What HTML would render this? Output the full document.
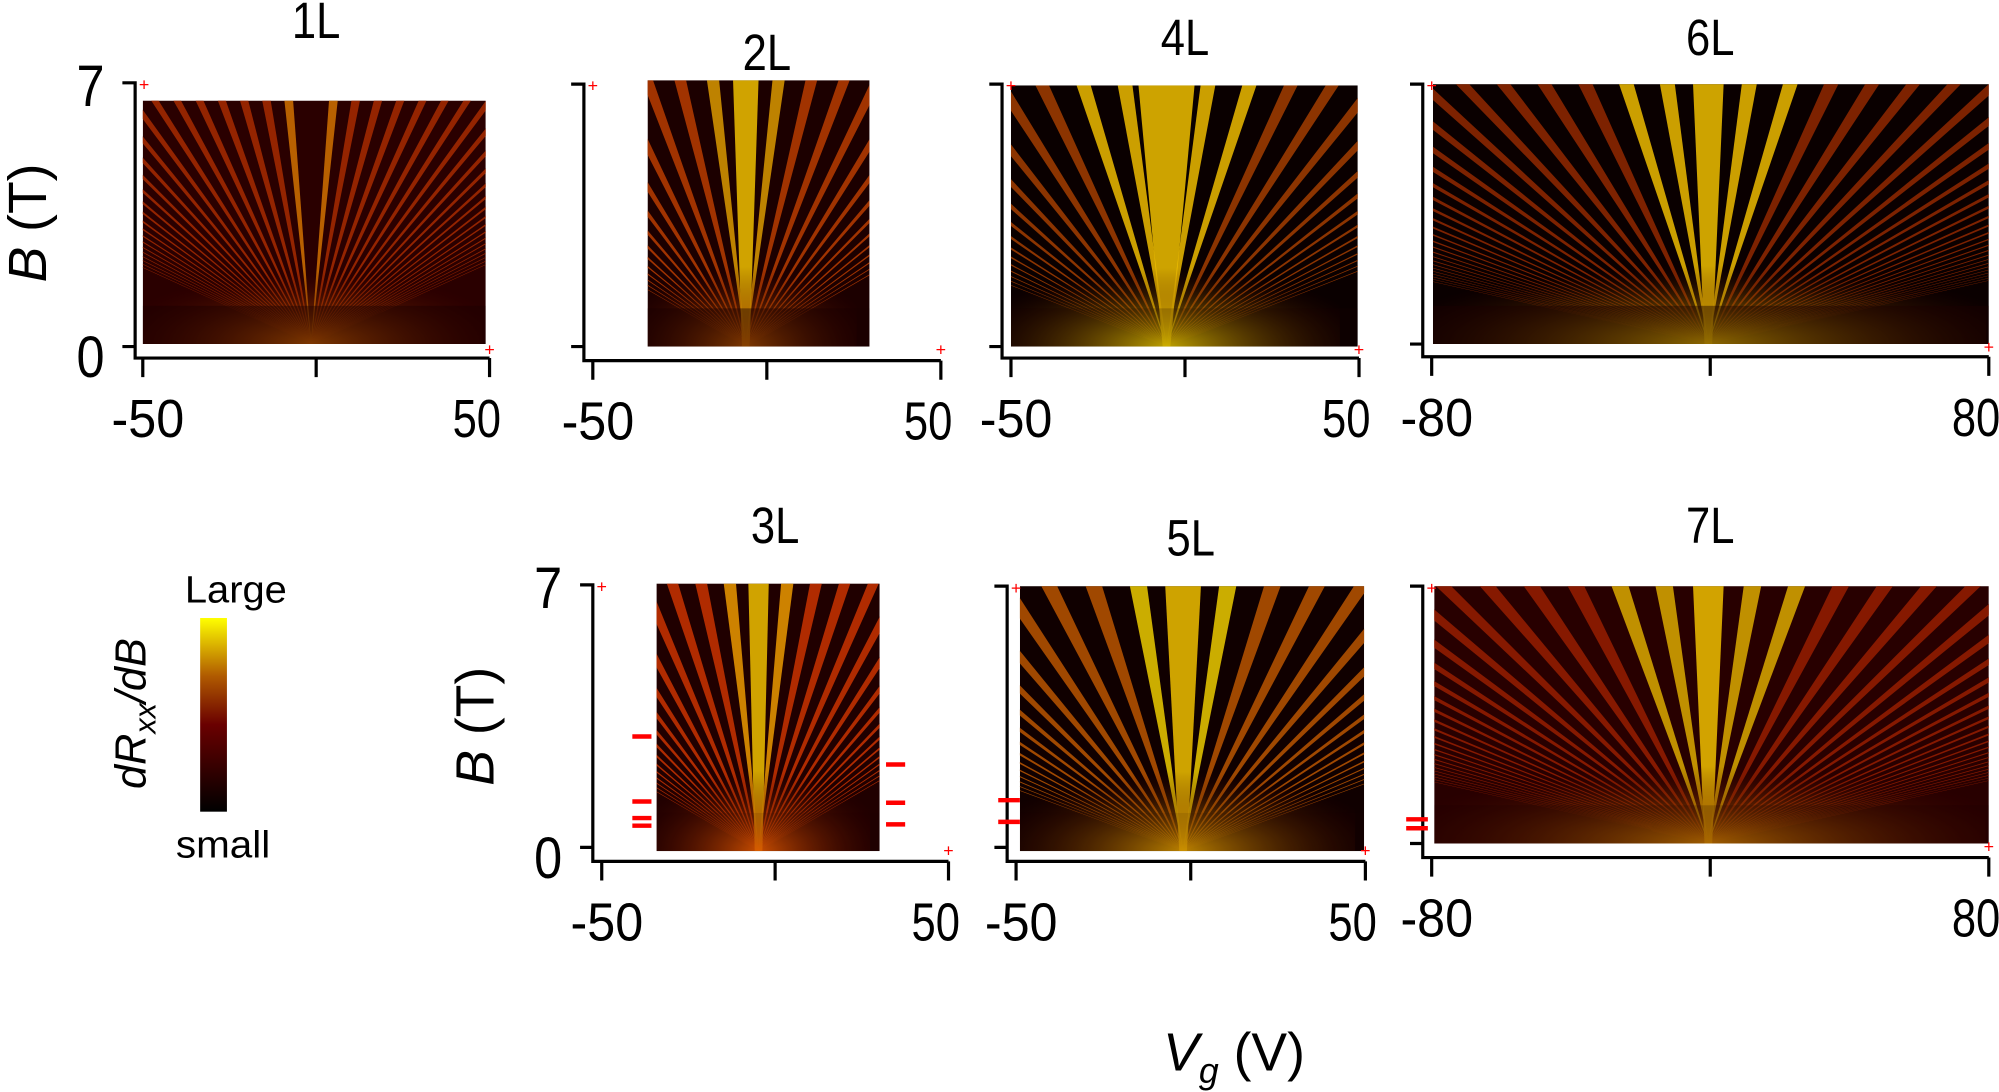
<!DOCTYPE html>
<html><head><meta charset="utf-8"><style>
html,body{margin:0;padding:0;background:#fff;overflow:hidden}
svg{display:block}
text{font-family:"Liberation Sans",sans-serif;fill:#000}
</style></head><body>
<svg id="s" width="1999" height="1092" viewBox="0 0 1568 857" preserveAspectRatio="none" xmlns="http://www.w3.org/2000/svg">
<defs>
<linearGradient id="cb" x1="0" y1="1" x2="0" y2="0">
<stop offset="0" stop-color="#000"/><stop offset="0.45" stop-color="#6a0000"/><stop offset="0.7" stop-color="#b05a00"/><stop offset="1" stop-color="#ffff00"/>
</linearGradient>
</defs>
<g id="heat"></g>
<g id="axes" stroke="#000" stroke-width="2.5" fill="none"></g>
<g id="txt"></g>
</svg>
<script>
const NS="http://www.w3.org/2000/svg";
const heat=document.getElementById('heat'),axes=document.getElementById('axes'),txt=document.getElementById('txt'),defs=document.querySelector('defs');
function el(p,t,a){const e=document.createElementNS(NS,t);for(const k in a)e.setAttribute(k,a[k]);p.appendChild(e);return e;}
function T(x,y,s,size,anchor,extra){const e=el(txt,'text',Object.assign({x:x,y:y,'font-size':size,'text-anchor':anchor||'middle'},extra||{}));e.textContent=s;return e;}
let cid=0;
function panel(o){
 const ax=o.ax, x0=o.x0,x1=o.x1,xm=(o.x0+o.x1)/2, y7=o.y7,y0=o.y0,yb=o.yb;
 el(axes,'path',{d:`M${ax-10},${y7}H${ax}V${yb}H${x1}M${ax-10},${y0}H${ax}M${x0},${yb}V${yb+15}M${xm},${yb}V${yb+15}M${x1},${yb}V${yb+15}`});
 T(o.x0+4,yb+62,o.lo,42,'middle',{textLength:o.lo.length*19,lengthAdjust:'spacingAndGlyphs'});
 T(o.x1-10,yb+62,o.hi,42,'middle',{textLength:o.hi.length*19,lengthAdjust:'spacingAndGlyphs'});
 T((o.x0+o.x1)/2,o.ty,o.title,40,'middle',{textLength:o.title.length*19,lengthAdjust:'spacingAndGlyphs'});
 if(o.ticklab){T(ax-35,y7+18,'7',46,'middle',{textLength:22,lengthAdjust:'spacingAndGlyphs'});T(ax-35,y0+24,'0',46,'middle',{textLength:22,lengthAdjust:'spacingAndGlyphs'});}
 const hx=o.hx,hy=o.hy,hw=o.hw,hh=o.hh;
 const id='c'+(cid++);
 const cp=el(defs,'clipPath',{id:id});el(cp,'rect',{x:hx,y:hy,width:hw,height:hh});
 const g=el(heat,'g',{'clip-path':`url(#${id})`});
 el(g,'rect',{x:hx,y:hy,width:hw,height:hh,fill:o.bg});
 const apx=o.apex, apy=hy+hh;
 const n=o.n;
 for(let i=-n;i<=n;i++){
   if(i===0)continue;
   const f=i/n;
   const tx=apx+f*o.spread;
   const w=Math.max(1.2,(o.lw||6)*(1-Math.abs(f)*0.6));
   const c=Math.abs(f)<o.yel?o.c2:o.c1;
   el(g,'path',{d:`M${apx},${apy}L${tx-w},${hy}L${tx+w},${hy}Z`,fill:c,opacity:o.op||0.9});
 }
 if(o.center){el(g,'path',{d:`M${apx-3},${apy}L${apx-o.center},${hy}L${apx+o.center},${hy}L${apx+3},${apy}Z`,fill:'#f0c000',opacity:0.85});}
 const gid='g'+id;const rg=el(defs,'radialGradient',{id:gid,cx:'50%',cy:'100%',r:'60%'});
 el(rg,'stop',{offset:0,'stop-color':o.glow||'#e07000','stop-opacity':0.9});el(rg,'stop',{offset:1,'stop-color':'#400000','stop-opacity':0});
 el(g,'rect',{x:apx-hw*0.5,y:hy+hh*0.5,width:hw,height:hh*0.5,fill:`url(#${gid})`});
 el(g,'rect',{x:hx,y:hy+hh-30,width:hw,height:30,fill:'#1a0000',opacity:o.dim||0.45});
 T(ax+7,y7+6,'+',14,'middle',{style:'fill:#f00'});
 T(x1,y0+7,'+',14,'middle',{style:'fill:#f00'});
}
panel({ax:106,x0:112,x1:384,y7:65,y0:272,yb:281,lo:'-50',hi:'50',title:'1L',ty:30,ticklab:true,hx:112,hy:79,hw:269,hh:191,bg:'#2a0000',apex:244,n:24,spread:420,c1:'#a02800',c2:'#c86a00',yel:0.08,lw:3.5});
panel({ax:458,x0:465,x1:738,y7:66,y0:272,yb:283,lo:'-50',hi:'50',title:'2L',ty:55,hx:508,hy:63,hw:174,hh:209,bg:'#1c0000',apex:585,n:14,spread:360,c1:'#b03800',c2:'#d09000',yel:0.14,lw:5,center:10});
panel({ax:786,x0:793,x1:1066,y7:66,y0:272,yb:281,lo:'-50',hi:'50',title:'4L',ty:43,hx:793,hy:67,hw:272,hh:205,bg:'#0a0000',apex:915,n:16,spread:520,c1:'#9a3a00',c2:'#e0b000',yel:0.14,lw:6,center:22,glow:'#ffe000',dim:0.2});
panel({ax:1116,x0:1123,x1:1560,y7:66,y0:270,yb:280,lo:'-80',hi:'80',title:'6L',ty:43,hx:1124,hy:66,hw:436,hh:204,bg:'#0a0000',apex:1340,n:28,spread:900,c1:'#8a2600',c2:'#e0b000',yel:0.08,lw:6,center:12,glow:'#ffd000'});
panel({ax:465,x0:472,x1:744,y7:459,y0:665,yb:676,lo:'-50',hi:'50',title:'3L',ty:426,ticklab:true,hx:515,hy:458,hw:175,hh:210,bg:'#200000',apex:595,n:16,spread:360,c1:'#c03000',c2:'#e09000',yel:0.1,lw:5,center:8,glow:'#f06000',dim:0.1});
panel({ax:790,x0:797,x1:1071,y7:460,y0:665,yb:676,lo:'-50',hi:'50',title:'5L',ty:436,hx:800,hy:460,hw:270,hh:208,bg:'#100000',apex:928,n:16,spread:560,c1:'#b05000',c2:'#e0c000',yel:0.12,lw:7,center:14,glow:'#e0a000',dim:0.1});
panel({ax:1116,x0:1123,x1:1560,y7:460,y0:662,yb:673,lo:'-80',hi:'80',title:'7L',ty:426,hx:1125,hy:460,hw:435,hh:202,bg:'#280000',apex:1340,n:26,spread:900,c1:'#901c00',c2:'#d0a000',yel:0.08,lw:7,center:12,glow:'#d08000',dim:0.2});
const R=[[496,511,578],[496,511,629],[496,511,642],[496,511,648],[695,710,600],[695,710,630],[695,710,647],[783,800,628],[783,800,645],[1103,1120,643],[1103,1120,650]];
R.forEach(r=>el(txt,'line',{x1:r[0],x2:r[1],y1:r[2],y2:r[2],stroke:'#f00','stroke-width':3.5}));
el(txt,'rect',{x:157,y:485,width:21,height:152,fill:'url(#cb)'});
T(185,473,'Large',30,'middle',{textLength:80,lengthAdjust:'spacingAndGlyphs'});T(175,673,'small',30,'middle',{textLength:74,lengthAdjust:'spacingAndGlyphs'});
const d=el(txt,'text',{x:0,y:0,'font-size':34,'text-anchor':'middle',transform:'translate(114,560) rotate(-90)','font-style':'italic'});
d.innerHTML='dR<tspan font-size="24" dy="8">xx</tspan><tspan dy="-8">/dB</tspan>';
const b1=el(txt,'text',{'font-size':42,'text-anchor':'middle',transform:'translate(36,175) rotate(-90)'});b1.innerHTML='<tspan font-style="italic">B</tspan> (T)';
const b2=el(txt,'text',{'font-size':42,'text-anchor':'middle',transform:'translate(387,570) rotate(-90)'});b2.innerHTML='<tspan font-style="italic">B</tspan> (T)';
const v=el(txt,'text',{x:968,y:840,'font-size':42,'text-anchor':'middle'});v.innerHTML='<tspan font-style="italic">V</tspan><tspan font-style="italic" font-size="28" dy="10">g</tspan><tspan dy="-10"> (V)</tspan>';
</script>
</body></html>
